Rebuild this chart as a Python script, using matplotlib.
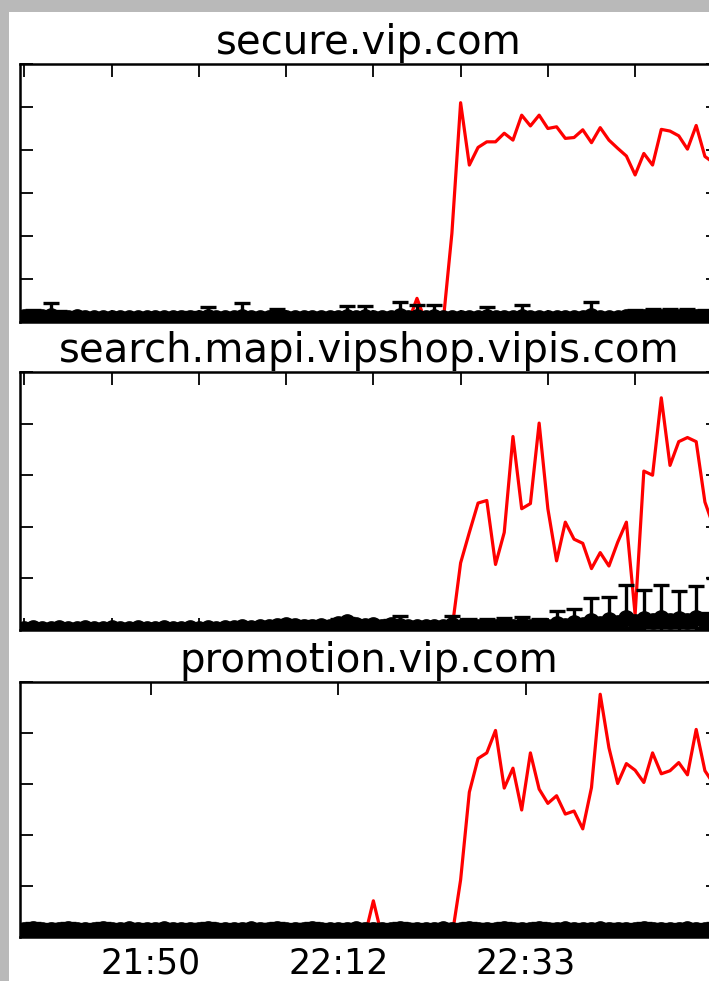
import matplotlib
matplotlib.use("Agg")
import matplotlib.pyplot as plt
from matplotlib.patches import Rectangle

hosts = ["secure.vip.com", "search.mapi.vipshop.vipis.com", "promotion.vip.com"]
ymax = [6, 5, 5]

red1 = [0]*45 + [0.55, 0, 0, 0, 2.06, 5.1, 3.65, 4.06, 4.19, 4.19, 4.39, 4.23, 4.81, 4.56, 4.81,
                 4.5, 4.54, 4.27, 4.29, 4.47, 4.17, 4.52, 4.23, 4.04, 3.86, 3.42, 3.92, 3.65, 4.48, 4.44,
                 4.33, 4.02, 4.57, 3.85, 3.7]
red2 = [0]*50 + [1.30, 1.89, 2.46, 2.51, 1.27, 1.89, 3.75, 2.35, 2.45, 4.01,
                 2.35, 1.34, 2.09, 1.76, 1.68, 1.19, 1.50, 1.24, 1.70, 2.09,
                 0.30, 3.08, 3.00, 4.50, 3.19, 3.65, 3.73, 3.65, 2.48, 2.0]
red3 = [0]*40 + [0.71] + [0]*9 + [1.12, 2.84, 3.50, 3.61, 4.05, 2.92, 3.31, 2.49, 3.61, 2.90,
                                   2.62, 2.77, 2.41, 2.47, 2.12, 2.93, 4.76, 3.71, 3.01, 3.40,
                                   3.27, 3.03, 3.61, 3.20, 3.26, 3.42, 3.18, 4.07, 3.26, 3.0]

blk1 = [0.12, 0.10, 0.11, 0.13, 0.10, 0.09, 0.11, 0.10, 0.09, 0.10,
        0.09, 0.10, 0.09, 0.10, 0.09, 0.10, 0.09, 0.10, 0.09, 0.10,
        0.10, 0.12, 0.10, 0.09, 0.10, 0.12, 0.09, 0.10, 0.09, 0.11,
        0.10, 0.09, 0.10, 0.09, 0.10, 0.09, 0.10, 0.12, 0.10, 0.12,
        0.09, 0.10, 0.10, 0.13, 0.10, 0.12, 0.10, 0.12, 0.09, 0.10,
        0.09, 0.10, 0.09, 0.11, 0.10, 0.09, 0.10, 0.12, 0.09, 0.10,
        0.09, 0.10, 0.09, 0.10, 0.10, 0.13, 0.10, 0.09, 0.10, 0.11,
        0.12, 0.11, 0.12, 0.11, 0.12, 0.11, 0.12, 0.11, 0.12, 0.11]
err1 = [0.12, 0.18, 0.10, 0.32, 0.16, 0.08, 0.12, 0.06, 0.10, 0.06,
        0.08, 0.05, 0.07, 0.05, 0.06, 0.05, 0.06, 0.05, 0.07, 0.14,
        0.08, 0.24, 0.10, 0.06, 0.08, 0.33, 0.07, 0.08, 0.06, 0.20,
        0.07, 0.06, 0.08, 0.06, 0.07, 0.06, 0.10, 0.26, 0.10, 0.26,
        0.07, 0.08, 0.10, 0.33, 0.12, 0.28, 0.12, 0.28, 0.06, 0.06,
        0.05, 0.08, 0.10, 0.24, 0.10, 0.06, 0.12, 0.28, 0.07, 0.05,
        0.06, 0.07, 0.06, 0.08, 0.10, 0.33, 0.08, 0.06, 0.08, 0.10,
        0.16, 0.14, 0.18, 0.14, 0.18, 0.12, 0.18, 0.14, 0.16, 0.14]

blk2 = [0.02, 0.03, 0.02, 0.02, 0.03, 0.02, 0.02, 0.03, 0.02, 0.02,
        0.03, 0.02, 0.02, 0.03, 0.02, 0.02, 0.03, 0.02, 0.02, 0.03,
        0.02, 0.03, 0.02, 0.04, 0.03, 0.05, 0.04, 0.06, 0.05, 0.08,
        0.10, 0.08, 0.06, 0.05, 0.08, 0.06, 0.12, 0.15, 0.10, 0.07,
        0.10, 0.06, 0.09, 0.08, 0.06, 0.05, 0.06, 0.05, 0.06, 0.10,
        0.05, 0.07, 0.05, 0.08, 0.05, 0.08, 0.05, 0.09, 0.05, 0.07,
        0.06, 0.12, 0.08, 0.14, 0.10, 0.18, 0.12, 0.20, 0.14, 0.24,
        0.16, 0.22, 0.18, 0.24, 0.18, 0.22, 0.18, 0.24, 0.18, 0.24]
err2 = [0.02, 0.03, 0.02, 0.02, 0.04, 0.02, 0.03, 0.02, 0.02, 0.03,
        0.02, 0.03, 0.02, 0.02, 0.03, 0.02, 0.02, 0.03, 0.02, 0.02,
        0.03, 0.02, 0.04, 0.03, 0.05, 0.04, 0.06, 0.05, 0.08, 0.06,
        0.10, 0.07, 0.12, 0.06, 0.10, 0.05, 0.10, 0.08, 0.06, 0.10,
        0.08, 0.12, 0.10, 0.20, 0.06, 0.08, 0.05, 0.08, 0.06, 0.18,
        0.06, 0.14, 0.06, 0.14, 0.07, 0.16, 0.06, 0.16, 0.08, 0.15,
        0.08, 0.24, 0.09, 0.27, 0.10, 0.44, 0.10, 0.44, 0.12, 0.64,
        0.12, 0.56, 0.12, 0.64, 0.12, 0.53, 0.12, 0.61, 0.14, 0.76]

blk3 = [0.14, 0.15, 0.14, 0.13, 0.14, 0.15, 0.14, 0.14, 0.13, 0.15,
        0.14, 0.14, 0.15, 0.14, 0.13, 0.14, 0.15, 0.14, 0.14, 0.13,
        0.14, 0.15, 0.14, 0.14, 0.13, 0.14, 0.15, 0.14, 0.14, 0.15,
        0.14, 0.13, 0.14, 0.15, 0.14, 0.14, 0.13, 0.14, 0.15, 0.14,
        0.14, 0.13, 0.14, 0.15, 0.14, 0.14, 0.13, 0.14, 0.15, 0.14,
        0.14, 0.15, 0.14, 0.13, 0.14, 0.15, 0.14, 0.14, 0.13, 0.15,
        0.14, 0.14, 0.15, 0.14, 0.13, 0.14, 0.15, 0.14, 0.14, 0.13,
        0.14, 0.15, 0.14, 0.14, 0.13, 0.14, 0.15, 0.14, 0.14, 0.15]
err3 = [0.11, 0.12, 0.10, 0.12, 0.11, 0.12, 0.10, 0.12, 0.11, 0.12,
        0.10, 0.12, 0.11, 0.12, 0.10, 0.12, 0.11, 0.12, 0.10, 0.12,
        0.11, 0.12, 0.10, 0.12, 0.11, 0.12, 0.10, 0.12, 0.11, 0.12,
        0.10, 0.12, 0.11, 0.12, 0.10, 0.12, 0.11, 0.12, 0.10, 0.12,
        0.11, 0.12, 0.10, 0.12, 0.11, 0.12, 0.10, 0.12, 0.11, 0.12,
        0.10, 0.12, 0.11, 0.12, 0.10, 0.12, 0.11, 0.12, 0.10, 0.12,
        0.11, 0.12, 0.10, 0.12, 0.11, 0.12, 0.10, 0.12, 0.11, 0.12,
        0.10, 0.12, 0.11, 0.12, 0.10, 0.12, 0.11, 0.12, 0.10, 0.12]

time_ticks = [14.5, 36, 57.5]
time_labels = ["21:50", "22:12", "22:33"]

reds = [red1, red2, red3]
blks = [blk1, blk2, blk3]
errs = [err1, err2, err3]

W, H = 709, 981
fig = plt.figure(figsize=(W/100, H/100), dpi=100, facecolor="#b9b9b9")
fig.add_artist(Rectangle((9/W, 0), 1, 1 - 12/H, transform=fig.transFigure,
                         facecolor="white", edgecolor="none", zorder=-1))

# axes boxes in pixels: (top, bottom)
boxes = [(64, 322), (372, 630), (682, 937)]
for i in range(3):
    top, bot = boxes[i]
    ax = fig.add_axes([20/W, 1 - bot/H, 698/W, (bot - top)/H])
    x = list(range(len(reds[i])))
    ax.plot(x, reds[i], color="red", lw=2.3, zorder=2)
    ax.errorbar(x, blks[i], yerr=errs[i], fmt="o", color="black", ms=11,
                elinewidth=2.4, capsize=6, capthick=2.4, zorder=3)
    ax.set_xlim(-0.5, 79.5)
    ax.set_ylim(0, ymax[i])
    ax.set_yticks(range(ymax[i] + 1))
    ax.set_yticklabels([])
    if i < 2:
        ax.set_xticks(range(0, 80, 10))
        ax.set_xticklabels([])
    else:
        ax.set_xticks(time_ticks)
        ax.set_xticklabels(time_labels, fontsize=25)
    ax.tick_params(direction="in", length=9, width=1.3, top=True, right=True, pad=7)
    for s in ax.spines.values():
        s.set_linewidth(1.8)
    ax.set_title(hosts[i], fontsize=29, pad=7)

fig.savefig("out.png", dpi=100)
